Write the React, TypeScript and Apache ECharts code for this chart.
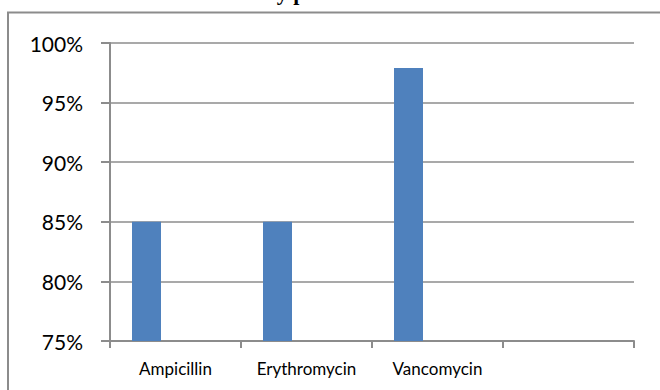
import React, { useEffect, useRef } from "react";
import * as echarts from "echarts";

const categories = ["Ampicillin", "Erythromycin", "Vancomycin", ""];
const sensitivity = [85, 85, 97.9, null];
const placeholderB = [null, null, null, null];
const placeholderC = [null, null, null, null];
const yTicks = { min: 75, max: 100, interval: 5 };
const titleText = "Antibiotic sensitivity pattern";

export default function App() {
  const ref = useRef<HTMLDivElement>(null);
  useEffect(() => {
    document.body.style.margin = "0";
    const chart = echarts.init(ref.current!, null, { renderer: "svg" });
    const axisGray = "#8c8c8c";
    chart.setOption({
      animation: false,
      backgroundColor: "#ffffff",
      graphic: [
        {
          type: "rect",
          shape: { x: 8, y: 12.5, width: 720, height: 420 },
          style: { fill: "none", stroke: axisGray, lineWidth: 2 },
          silent: true,
        },
        {
          type: "text",
          x: 94,
          y: -19,
          style: {
            text: titleText,
            font: "bold 22px 'Liberation Serif', 'Times New Roman', serif",
            fill: "#000",
            textVerticalAlign: "top",
            verticalAlign: "top",
          },
          silent: true,
        },
      ],
      grid: { left: 110, right: 26, top: 43, bottom: 49, containLabel: false },
      xAxis: {
        type: "category",
        data: categories,
        axisLine: { show: true, lineStyle: { color: axisGray, width: 2 } },
        axisTick: { show: true, alignWithLabel: false, length: 7, lineStyle: { color: axisGray, width: 2 } },
        axisLabel: {
          interval: 0,
          margin: 19,
          color: "#000",
          fontFamily: "Lato",
          fontSize: 17,
        },
        splitLine: { show: false },
      },
      yAxis: {
        type: "value",
        min: yTicks.min,
        max: yTicks.max,
        interval: yTicks.interval,
        axisLine: { show: true, lineStyle: { color: axisGray, width: 2 } },
        axisTick: { show: true, length: 9, lineStyle: { color: axisGray, width: 2 } },
        axisLabel: {
          formatter: "{value}%",
          margin: 27,
          color: "#000",
          fontFamily: "Lato",
          fontSize: 21,
        },
        splitLine: { show: true, lineStyle: { color: axisGray, width: 1.5 } },
      },
      series: [
        {
          name: "Sensitivity",
          type: "bar",
          data: sensitivity,
          barWidth: 29,
          barGap: "0%",
          itemStyle: { color: "#4F81BD" },
        },
        { name: "B", type: "bar", data: placeholderB, barWidth: 29, barGap: "0%", itemStyle: { color: "#C0504D" } },
        { name: "C", type: "bar", data: placeholderC, barWidth: 29, barGap: "0%", itemStyle: { color: "#9BBB59" } },
      ],
    });
    return () => chart.dispose();
  }, []);
  return <div ref={ref} style={{ width: 660, height: 390 }} />;
}
